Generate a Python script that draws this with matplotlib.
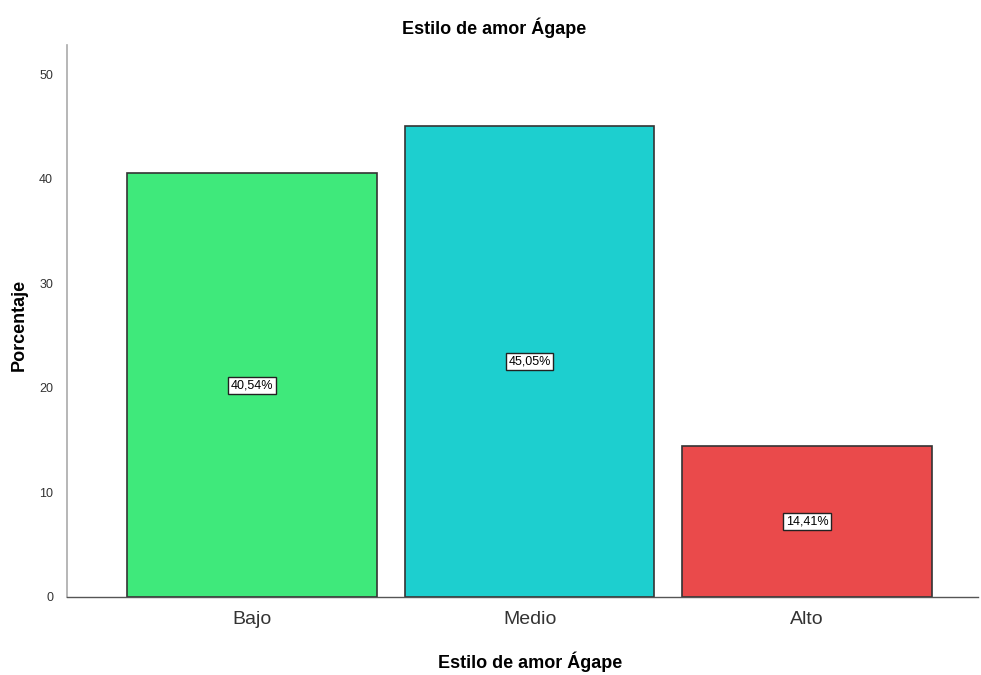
import matplotlib
matplotlib.use("Agg")
import matplotlib.pyplot as plt
from matplotlib import font_manager

# datos del grafico
categorias = ["Bajo", "Medio", "Alto"]
porcentajes = [40.54, 45.05, 14.41]
etiquetas = ["40,54%", "45,05%", "14,41%"]
colores = ["#3FE97B", "#1DCFCF", "#EA4A4B"]
yticks = [0, 10, 20, 30, 40, 50]

nombres = {f.name for f in font_manager.fontManager.ttflist}
fuente = "Liberation Sans Narrow" if "Liberation Sans Narrow" in nombres else "Liberation Sans"
plt.rcParams["font.family"] = [fuente, "DejaVu Sans"]

fig = plt.figure(figsize=(9.81, 6.75), dpi=100)
ax = fig.add_axes([0.0683, 0.1156, 0.9287, 0.8177])

x = list(range(len(categorias)))
ax.bar(x, porcentajes, width=0.9, color=colores, edgecolor="#333333", linewidth=1.2)

# etiquetas dentro de las barras
for xi, v, t in zip(x, porcentajes, etiquetas):
    ax.text(xi, v / 2, t, ha="center", va="center", fontsize=9, color="black",
            bbox=dict(boxstyle="square,pad=0.2", facecolor="white", edgecolor="#222222", linewidth=1))

ax.set_xlim(-0.667, 2.616)
ax.set_ylim(0, 52.8)
ax.set_xticks(x)
ax.set_xticklabels(categorias, fontsize=14, color="#333333")
ax.set_yticks(yticks)
ax.set_yticklabels([str(t) for t in yticks], fontsize=9, color="#333333")
ax.tick_params(length=0)
ax.tick_params(axis="y", pad=10)
ax.tick_params(axis="x", pad=10)

for s in ["top", "right"]:
    ax.spines[s].set_visible(False)
ax.spines["left"].set_color("#AAAAAA")
ax.spines["left"].set_linewidth(1.2)
ax.spines["bottom"].set_color("#555555")
ax.spines["bottom"].set_linewidth(1)

fig.text(0.504, 0.9585, "Estilo de amor Ágape", fontsize=13, fontweight="bold",
         ha="center", va="center")
ax.set_xlabel("Estilo de amor Ágape", fontsize=13, fontweight="bold")
ax.xaxis.set_label_coords(0.508, -0.118)
ax.xaxis.label.set_va("center")
ax.set_ylabel("Porcentaje", fontsize=13, fontweight="bold")
ax.yaxis.set_label_coords(-0.052, 0.493)
ax.yaxis.label.set_va("center")

fig.savefig("out.png", dpi=100)
